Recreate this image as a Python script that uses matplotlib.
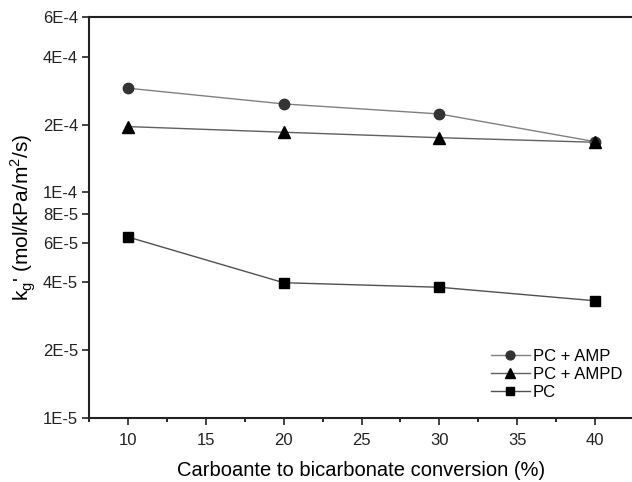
import matplotlib
matplotlib.use("Agg")
import matplotlib.pyplot as plt
from matplotlib.ticker import FixedLocator, FixedFormatter, NullLocator, MultipleLocator

plt.rcParams['font.family'] = ['Liberation Sans', 'DejaVu Sans']
plt.rcParams['mathtext.fontset'] = 'custom'
plt.rcParams['mathtext.rm'] = 'Liberation Sans'

conversion = [10, 20, 30, 40]
pc_amp = [2.90e-4, 2.47e-4, 2.23e-4, 1.68e-4]
pc_ampd = [1.96e-4, 1.85e-4, 1.75e-4, 1.67e-4]
pc = [6.35e-5, 3.98e-5, 3.80e-5, 3.31e-5]

ytick_vals = [1e-5, 2e-5, 4e-5, 6e-5, 8e-5, 1e-4, 2e-4, 4e-4, 6e-4]
ytick_labels = ['1E-5', '2E-5', '4E-5', '6E-5', '8E-5', '1E-4', '2E-4', '4E-4', '6E-4']

fig = plt.figure(figsize=(6.32, 4.82), dpi=100)
ax = fig.add_axes([89/632, 1-418/482, 545/632, 401/482])

ax.plot(conversion, pc_amp, color='#808080', lw=1.0, marker='o', ms=7.5,
        mfc='#333333', mec='#333333', label='PC + AMP')
ax.plot(conversion, pc_ampd, color='#606060', lw=1.0, marker='^', ms=8.5,
        mfc='black', mec='black', label='PC + AMPD')
ax.plot(conversion, pc, color='#505050', lw=1.0, marker='s', ms=6.5,
        mfc='black', mec='black', label='PC')

ax.set_yscale('log')
ax.set_ylim(1e-5, 6e-4)
ax.set_xlim(7.5, 42.5)
ax.yaxis.set_major_locator(FixedLocator(ytick_vals))
ax.yaxis.set_major_formatter(FixedFormatter(ytick_labels))
ax.yaxis.set_minor_locator(NullLocator())
ax.xaxis.set_major_locator(MultipleLocator(5))
ax.xaxis.set_minor_locator(MultipleLocator(2.5))

for s in ax.spines.values():
    s.set_linewidth(1.5)
    s.set_color('#222222')
ax.tick_params(axis='both', which='major', direction='out', length=5, width=1.2,
               labelsize=12, colors='#222222')
ax.tick_params(axis='x', which='minor', direction='out', length=3, width=1.2)
ax.tick_params(axis='x', pad=6)
ax.tick_params(axis='y', pad=3)

ax.set_xlabel('Carboante to bicarbonate conversion (%)', fontsize=14.5, labelpad=9)
ax.set_ylabel("k$_\\mathregular{g}$' (mol/kPa/m$^\\mathregular{2}$/s)", fontsize=15, labelpad=3)

leg = ax.legend(loc='upper left', bbox_to_anchor=(0.738, 0.173), frameon=False,
                fontsize=12, handlelength=2.3, handletextpad=0.2, labelspacing=0.18,
                borderpad=0, borderaxespad=0, markerscale=0.85)

fig.savefig('out.png', dpi=100)
